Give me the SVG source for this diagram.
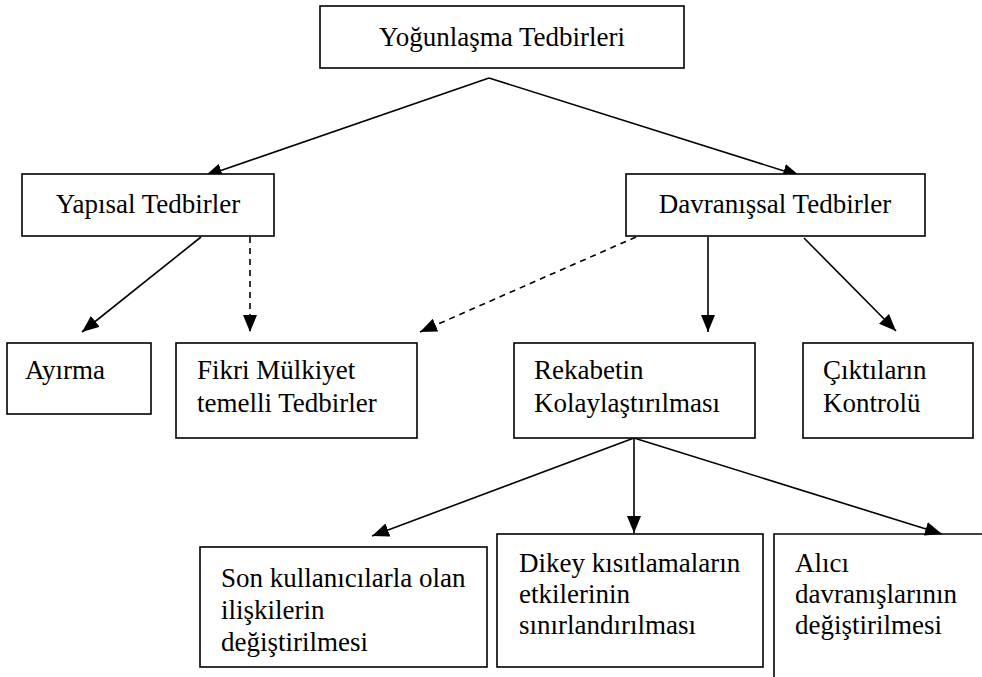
<svg xmlns="http://www.w3.org/2000/svg" width="982" height="677" viewBox="0 0 982 677">
<style>
  .box { fill: #ffffff; stroke: #000000; stroke-width: 1.6; }
  text { font-family: "Liberation Serif", "Times New Roman", Tinos, "DejaVu Serif", serif; font-size: 27px; fill: #000000; }
  .c { text-anchor: middle; }
  .ln { stroke: #000000; stroke-width: 1.6; fill: none; }
  .dash { stroke-dasharray: 6 5; }
</style>
<defs>
  <marker id="ah" markerUnits="userSpaceOnUse" markerWidth="18" markerHeight="14" refX="17" refY="7" orient="auto">
    <path d="M0,0 L17,7 L0,14 z" fill="#000000"/>
  </marker>
</defs>
<rect width="982" height="677" fill="#ffffff"/>

<g id="connectors">
  <line class="ln" x1="489" y1="78" x2="205" y2="176" marker-end="url(#ah)"/>
  <line class="ln" x1="489" y1="78" x2="800" y2="176" marker-end="url(#ah)"/>
  <line class="ln" x1="201" y1="237" x2="82" y2="332" marker-end="url(#ah)"/>
  <line class="ln dash" x1="250" y1="237" x2="250" y2="332" marker-end="url(#ah)"/>
  <line class="ln dash" x1="636" y1="237" x2="420" y2="332" marker-end="url(#ah)"/>
  <line class="ln" x1="708" y1="237" x2="708" y2="332" marker-end="url(#ah)"/>
  <line class="ln" x1="804" y1="238" x2="896" y2="331" marker-end="url(#ah)"/>
  <line class="ln" x1="634" y1="438" x2="372" y2="536" marker-end="url(#ah)"/>
  <line class="ln" x1="634" y1="438" x2="634" y2="533" marker-end="url(#ah)"/>
  <line class="ln" x1="634" y1="438" x2="942" y2="534" marker-end="url(#ah)"/>
</g>

<g id="node-top">
  <rect class="box" x="320" y="6" width="364" height="62"/>
  <text class="c" x="502" y="46">Yoğunlaşma Tedbirleri</text>
</g>
<g id="node-yapisal">
  <rect class="box" x="22" y="174" width="252" height="62"/>
  <text class="c" x="148" y="213">Yapısal Tedbirler</text>
</g>
<g id="node-davranissal">
  <rect class="box" x="626" y="174" width="299" height="62"/>
  <text class="c" x="775" y="213">Davranışsal Tedbirler</text>
</g>
<g id="node-ayirma">
  <rect class="box" x="7" y="343" width="144" height="71"/>
  <text x="25" y="379">Ayırma</text>
</g>
<g id="node-fikri">
  <rect class="box" x="176" y="343" width="241" height="95"/>
  <text x="197" y="379">Fikri Mülkiyet</text>
  <text x="197" y="412">temelli Tedbirler</text>
</g>
<g id="node-rekabet">
  <rect class="box" x="514" y="343" width="241" height="95"/>
  <text x="534" y="379">Rekabetin</text>
  <text x="534" y="412">Kolaylaştırılması</text>
</g>
<g id="node-ciktilar">
  <rect class="box" x="803" y="343" width="170" height="95"/>
  <text x="823" y="379">Çıktıların</text>
  <text x="823" y="412">Kontrolü</text>
</g>
<g id="node-son">
  <rect class="box" x="200" y="547" width="287" height="120"/>
  <text x="221" y="587">Son kullanıcılarla olan</text>
  <text x="221" y="619">ilişkilerin</text>
  <text x="221" y="651">değiştirilmesi</text>
</g>
<g id="node-dikey">
  <rect class="box" x="497" y="534" width="266" height="133"/>
  <text x="519" y="572">Dikey kısıtlamaların</text>
  <text x="519" y="603">etkilerinin</text>
  <text x="519" y="634">sınırlandırılması</text>
</g>
<g id="node-alici">
  <path class="ln" d="M982,534 H774 V677"/>
  <text x="795" y="572">Alıcı</text>
  <text x="795" y="603">davranışlarının</text>
  <text x="795" y="634">değiştirilmesi</text>
</g>
</svg>
